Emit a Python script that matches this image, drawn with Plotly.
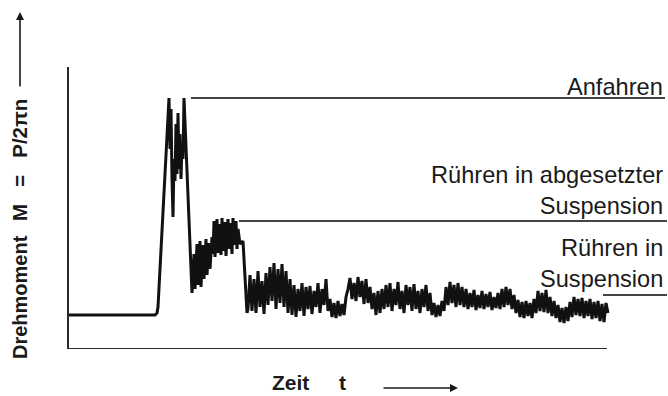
import plotly.graph_objects as go

# --- Torque trace, time axis in arbitrary units, torque in arbitrary units ---
# Idle phase before start-up
idle_t = [0, 88, 90, 91]
idle_m = [34, 34, 36, 42]

# Start-up ("Anfahren"): steep rise, double peak, fall back
anfahr_t = [93, 96, 99, 101, 102, 103, 104, 105, 106, 107, 108, 109, 110, 111,
            112, 113, 114, 115, 116, 117, 118, 119, 121, 123, 125]
anfahr_m = [80, 137, 194, 232, 251, 200, 240, 170, 132, 190, 168, 225, 175, 236,
            180, 215, 170, 205, 190, 251, 227, 203, 154, 105, 56]

# Stirring in settled suspension
abgesetzt_t = [127, 128, 130, 131, 133, 134, 136, 137, 139, 140, 142, 143, 145,
               146, 147, 148, 150, 151, 152, 154, 155, 156, 158, 159, 161, 162,
               163, 165, 166, 167, 169, 170, 171, 173, 176, 178, 180]
abgesetzt_m = [95, 60, 105, 64, 108, 62, 104, 70, 110, 74, 106, 80, 112,
               95, 128, 92, 130, 96, 125, 94, 131, 98, 127, 93, 130, 100,
               126, 95, 131, 104, 128, 100, 120, 105, 108, 70, 36]

# Stirring in (suspended) suspension, sampled every 2 time units from t=181
suspension_t0 = 181
suspension_m = [
    40, 74, 38, 70, 36, 78, 42, 68, 35, 76,
    44, 82, 48, 86, 40, 80, 46, 85, 42, 78,
    36, 70, 34, 64, 32, 60, 38, 66, 33, 62,
    40, 63, 35, 58, 42, 66, 36, 60, 44, 70,
    38, 50, 32, 46, 31, 48, 33, 45, 34, 52,
    60, 71, 50, 66, 48, 72, 52, 68, 45, 70,
    46, 62, 40, 56, 34, 58, 36, 60, 40, 64,
    42, 66, 38, 60, 44, 67, 40, 58, 36, 64,
    44, 62, 38, 65, 40, 58, 36, 60, 42, 64,
    38, 56, 34, 46, 32, 44, 33, 48, 38, 62,
    44, 67, 46, 64, 42, 66, 44, 62, 42, 60,
    40, 56, 42, 59, 39, 54, 41, 58, 40, 55,
    42, 57, 39, 52, 41, 56, 40, 60, 42, 62,
    44, 60, 40, 54, 36, 49, 32, 47, 31, 48,
    33, 46, 31, 50, 36, 58, 38, 56, 37, 59,
    36, 52, 33, 48, 31, 44, 27, 41, 26, 42,
    28, 47, 32, 52, 34, 50, 33, 51, 31, 48,
    33, 50, 30, 47, 31, 48, 28, 45, 27, 46,
    36,
]
suspension_t = [suspension_t0 + 2 * i for i in range(len(suspension_m))]

# Phase labels with the level of their leader lines (t_start, t_end, M)
phase_labels = ["Anfahren", "Rühren in abgesetzter<br>Suspension", "Rühren in<br>Suspension"]
phase_lines = [(124, 598, 251), (172, 600, 128), (536, 600, 54)]
phase_label_y = [262, 159, 86]

t_all = idle_t + anfahr_t + abgesetzt_t + suspension_t
m_all = idle_m + anfahr_m + abgesetzt_m + suspension_m

W, H = 668, 396
L, R, T, B = 67, 1, 20, 47
PW, PH = W - L - R, H - T - B


def px(x):
    return (x - L) / PW


def py(y):
    return (H - B - y) / PH


FONT = "Liberation Sans, Arial, Helvetica, sans-serif"
INK = "#1a1a1a"
NB = "\u00a0"

fig = go.Figure()
fig.add_trace(go.Scatter(x=t_all, y=m_all, mode="lines",
                         line=dict(color="#111111", width=3),
                         hoverinfo="skip", showlegend=False))

shapes = [
    # axes
    dict(type="line", xref="x", yref="y", x0=1, x1=1, y0=0, y1=282,
         line=dict(color="#2a2a2a", width=2)),
    dict(type="line", xref="x", yref="y", x0=0, x1=540, y0=0, y1=0,
         line=dict(color="#2a2a2a", width=2)),
]
for (t0, t1, m) in phase_lines:
    shapes.append(dict(type="line", xref="x", yref="y", x0=t0, x1=t1, y0=m, y1=m,
                       line=dict(color="#444444", width=2)))

annotations = []
for text, yc in zip(phase_labels, phase_label_y):
    annotations.append(dict(text=text, xref="x", yref="y", x=598, y=yc,
                            xanchor="right", yanchor="middle", align="right",
                            showarrow=False,
                            font=dict(family=FONT, size=23.6, color=INK)))

# axis titles
annotations += [
    dict(text="<b>Drehmoment</b>", xref="paper", yref="paper",
         x=px(20), y=py(297), textangle=-90, showarrow=False,
         xanchor="center", yanchor="middle",
         font=dict(family=FONT, size=20, color=INK)),
    dict(text="<b>M" + NB * 3 + "=" + NB * 3 + "P/2πn</b>", xref="paper", yref="paper",
         x=px(20), y=py(160), textangle=-90, showarrow=False,
         xanchor="center", yanchor="middle",
         font=dict(family=FONT, size=20.5, color=INK)),
    dict(text="", xref="paper", yref="paper", x=px(20), y=py(12),
         ax=0, ay=76, showarrow=True, arrowhead=2, arrowsize=1,
         arrowwidth=1.6, arrowcolor=INK),
    dict(text="<b>Zeit</b>", xref="paper", yref="paper",
         x=px(290), y=py(395.5), showarrow=False,
         xanchor="center", yanchor="bottom", borderpad=0,
         font=dict(family=FONT, size=21, color=INK)),
    dict(text="<b>t</b>", xref="paper", yref="paper",
         x=px(342), y=py(395.5), showarrow=False,
         xanchor="center", yanchor="bottom", borderpad=0,
         font=dict(family=FONT, size=21, color=INK)),
    dict(text="", xref="paper", yref="paper", x=px(458), y=py(388),
         ax=-76, ay=0, showarrow=True, arrowhead=2, arrowsize=1,
         arrowwidth=1.6, arrowcolor=INK),
]

fig.update_layout(
    width=W, height=H, autosize=False,
    margin=dict(l=L, r=R, t=T, b=B, pad=0),
    paper_bgcolor="white", plot_bgcolor="white",
    xaxis=dict(range=[0, PW], visible=False, fixedrange=True),
    yaxis=dict(range=[0, PH], visible=False, fixedrange=True),
    shapes=shapes, annotations=annotations,
    showlegend=False,
)

fig.write_html("out.html")
